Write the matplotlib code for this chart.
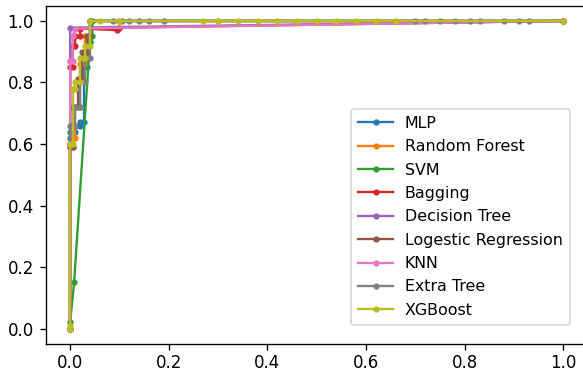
import matplotlib
matplotlib.use("Agg")
import matplotlib.pyplot as plt

labels = ["MLP", "Random Forest", "SVM", "Bagging", "Decision Tree",
          "Logestic Regression", "KNN", "Extra Tree", "XGBoost"]

mlp_fpr = [0.0, 0.0, 0.0, 0.01, 0.01, 0.02, 0.02, 0.028, 0.028, 0.035, 0.035, 0.04, 0.04, 1.0]
mlp_tpr = [0.0, 0.62, 0.64, 0.64, 0.66, 0.66, 0.67, 0.67, 0.85, 0.85, 0.93, 0.93, 1.0, 1.0]

rf_fpr = [0.0, 0.0, 0.005, 0.005, 0.01, 0.01, 0.02, 0.02, 0.03, 0.03, 0.04, 0.04, 0.1, 0.3, 1.0]
rf_tpr = [0.0, 0.59, 0.59, 0.62, 0.62, 0.72, 0.72, 0.86, 0.86, 0.95, 0.95, 1.0, 1.0, 1.0, 1.0]

svm_fpr = [0.0, 0.0, 0.008, 0.04, 0.045, 0.045, 1.0]
svm_tpr = [0.0, 0.02, 0.15, 0.93, 0.95, 1.0, 1.0]

bag_fpr = [0.0, 0.0, 0.0, 0.005, 0.005, 0.01, 0.01, 0.02, 0.02, 0.095, 0.1, 1.0]
bag_tpr = [0.0, 0.6, 0.85, 0.85, 0.92, 0.92, 0.95, 0.95, 0.975, 0.97, 0.978, 1.0]

dt_fpr = [0.0, 0.0, 0.0, 1.0]
dt_tpr = [0.0, 0.87, 0.978, 1.0]

lr_fpr = [0.0, 0.0, 0.005, 0.005, 0.015, 0.015, 0.025, 0.025, 0.035, 0.035, 0.04, 0.04, 1.0]
lr_tpr = [0.0, 0.59, 0.59, 0.72, 0.72, 0.81, 0.81, 0.9, 0.9, 0.95, 0.95, 1.0, 1.0]

knn_fpr = [0.0, 0.0, 0.0, 0.005, 0.005, 0.01, 1.0]
knn_tpr = [0.0, 0.6, 0.87, 0.87, 0.95, 0.975, 1.0]

et_fpr = [0.0, 0.0, 0.01, 0.01, 0.02, 0.02, 0.03, 0.03, 0.04, 0.04, 0.087, 0.105, 0.12, 0.14,
          0.16, 0.19, 0.7, 0.72, 0.75, 0.78, 0.81, 0.83, 0.88, 0.91, 0.93, 1.0]
et_tpr = [0.0, 0.66, 0.66, 0.72, 0.72, 0.8, 0.8, 0.88, 0.88, 1.0, 1.0, 1.0, 1.0, 1.0,
          1.0, 1.0, 1.0, 1.0, 1.0, 1.0, 1.0, 1.0, 1.0, 1.0, 1.0, 1.0]

xgb_fpr = [0.0, 0.0, 0.0, 0.005, 0.005, 0.01, 0.01, 0.02, 0.02, 0.03, 0.03, 0.04, 0.04, 0.06,
           0.1, 0.27, 0.3, 0.34, 0.38, 0.42, 0.46, 0.5, 0.54, 0.58, 0.62, 0.66, 1.0]
xgb_tpr = [0.0, 0.01, 0.6, 0.6, 0.78, 0.78, 0.8, 0.8, 0.88, 0.88, 0.92, 0.92, 1.0, 1.0,
           1.0, 1.0, 1.0, 1.0, 1.0, 1.0, 1.0, 1.0, 1.0, 1.0, 1.0, 1.0, 1.0]

series = [(mlp_fpr, mlp_tpr), (rf_fpr, rf_tpr), (svm_fpr, svm_tpr), (bag_fpr, bag_tpr),
          (dt_fpr, dt_tpr), (lr_fpr, lr_tpr), (knn_fpr, knn_tpr), (et_fpr, et_tpr),
          (xgb_fpr, xgb_tpr)]

DPI = 120
W, H = 583, 372
fig = plt.figure(figsize=(W / DPI, H / DPI), dpi=DPI)
ax_l, ax_r, ax_t, ax_b = 45.5, 588.0, 5.5, 344.0
ax = fig.add_axes([ax_l / W, 1 - ax_b / H, (ax_r - ax_l) / W, (ax_b - ax_t) / H])
for (fx, ty), lab in zip(series, labels):
    ax.plot(fx, ty, marker='.', label=lab, linewidth=1.4, markersize=5.5)
ax.set_xlim(-0.05, 1.05)
ax.set_ylim(-0.05, 1.05)
ax.set_xticks([0.0, 0.2, 0.4, 0.6, 0.8, 1.0])
ax.set_yticks([0.0, 0.2, 0.4, 0.6, 0.8, 1.0])
ax.tick_params(labelsize=10)
ax.tick_params(axis='x', pad=2.5)
leg_r, leg_b = 570.0, 325.0
ax.legend(loc='lower right', fontsize=9.5, labelspacing=0.53, handlelength=2.2,
          handletextpad=0.75, borderpad=0.45, borderaxespad=0.0,
          bbox_to_anchor=((leg_r - ax_l) / (ax_r - ax_l), (ax_b - leg_b) / (ax_b - ax_t)),
          bbox_transform=ax.transAxes)
fig.savefig("out.png", dpi=DPI)
